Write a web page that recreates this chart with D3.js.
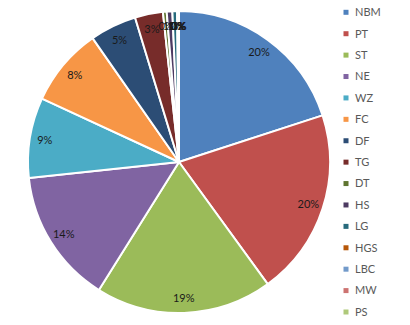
<!DOCTYPE html>
<html>
<head>
<meta charset="utf-8">
<script src="https://cdn.jsdelivr.net/npm/d3@7"></script>
<style>
  html, body { margin: 0; padding: 0; background: #fff; }
  svg { display: block; }
</style>
</head>
<body>
<svg id="chart" width="410" height="325"></svg>
<script>
// Share of each category (percent)
const categories = ["NBM", "PT", "ST", "NE", "WZ", "FC", "DF", "TG", "DT", "HS", "LG", "HGS", "LBC", "MW", "PS"];
const values = [20.0, 20.0, 18.9, 14.4, 8.6, 8.4, 5.0, 3.0, 0.4, 0.6, 0.5, 0.1, 0.05, 0.03, 0.02];
const colors = ["#4F81BD", "#C0504D", "#9BBB59", "#8064A2", "#4BACC6", "#F79646", "#2C4D75", "#772C2A",
                "#5F7530", "#4D3B62", "#276A7C", "#B65708", "#729ACA", "#CD7371", "#AFC97A"];

const svg = d3.select("#chart");
const cx = 179, cy = 162, r = 151;

const data = categories.map((c, i) => ({ name: c, value: values[i] }));
const total = d3.sum(values);

const pie = d3.pie().value(d => d.value).sort(null);
const arc = d3.arc().innerRadius(0).outerRadius(r);
const labelArc = d3.arc().innerRadius(136).outerRadius(136);
const color = d3.scaleOrdinal().domain(categories).range(colors);

const g = svg.append("g").attr("transform", `translate(${cx},${cy})`);
const arcs = pie(data);

g.selectAll("path.slice")
  .data(arcs)
  .enter().append("path")
  .attr("class", "slice")
  .attr("d", arc)
  .attr("fill", d => color(d.data.name))
  .attr("stroke", "#fff")
  .attr("stroke-width", 2)
  .attr("stroke-linejoin", "round");

g.selectAll("text.lbl")
  .data(arcs)
  .enter().append("text")
  .attr("class", "lbl")
  .attr("transform", d => `translate(${labelArc.centroid(d)})`)
  .attr("text-anchor", "middle")
  .attr("dy", "0.35em")
  .attr("font-family", "Lato, 'Open Sans', sans-serif")
  .attr("font-size", 11)
  .attr("fill", "#1a1a1a")
  .text(d => Math.round(d.data.value / total * 100) + "%");

// Legend
const legend = svg.append("g");
const ly = d3.scalePoint().domain(categories).range([12.3, 312]);
const item = legend.selectAll("g.item")
  .data(categories)
  .enter().append("g")
  .attr("class", "item")
  .attr("transform", d => `translate(0,${ly(d)})`);
item.append("rect")
  .attr("x", 343.5).attr("y", -2.5)
  .attr("width", 5).attr("height", 5)
  .attr("fill", d => color(d));
item.append("text")
  .attr("x", 355).attr("dy", "0.35em")
  .attr("font-family", "Lato, 'Open Sans', sans-serif")
  .attr("font-size", 11)
  .attr("fill", "#595959")
  .text(d => d);
</script>
</body>
</html>
